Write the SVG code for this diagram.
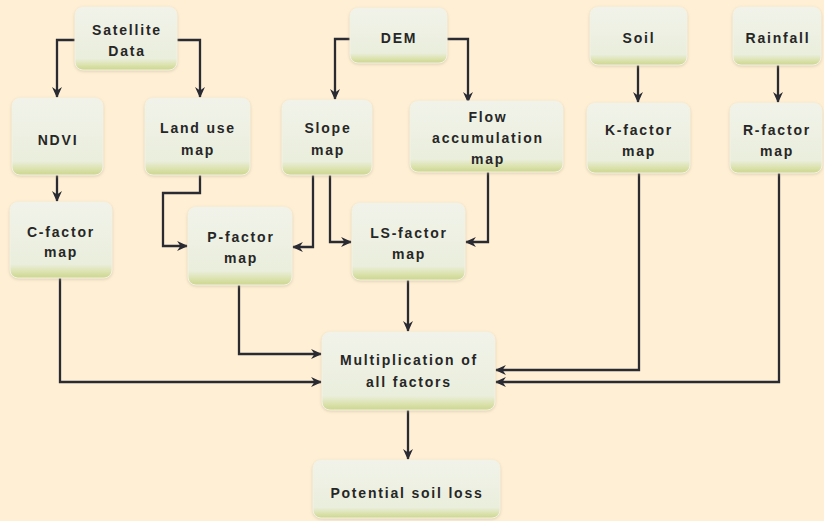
<svg xmlns="http://www.w3.org/2000/svg" width="824" height="521" viewBox="0 0 824 521">
<defs>
<linearGradient id="g" x1="0" y1="0" x2="0" y2="1">
<stop offset="0" stop-color="#F1F3EA"/>
<stop offset="0.82" stop-color="#EAEEDC"/>
<stop offset="0.92" stop-color="#DCE2AE"/>
<stop offset="1" stop-color="#CCD68E"/>
</linearGradient>
<marker id="a" viewBox="0 0 10 10" refX="9" refY="5" markerWidth="11" markerHeight="11" markerUnits="userSpaceOnUse" orient="auto">
<path d="M0,0.5 L10,5 L0,9.5 L3,5 Z" fill="#2a2a33"/>
</marker>
<filter id="s" x="-10%" y="-10%" width="120%" height="125%">
<feDropShadow dx="0" dy="1" stdDeviation="1.5" flood-color="#b9ad8c" flood-opacity="0.5"/>
</filter>
</defs>
<style>
.n rect{fill:url(#g);stroke:#F4F1E2;stroke-width:1;filter:url(#s)}
.n text{font-family:"Liberation Sans",Arial,sans-serif;font-weight:bold;font-size:14px;letter-spacing:1.8px;fill:#262626;text-anchor:middle}
.c path{fill:none;stroke:#2a2a33;stroke-width:2.3;marker-end:url(#a)}
</style>
<rect width="824" height="521" fill="#FFF0D5"/>
<g id="connectors" class="c">
<path d="M75,40 H57 V97"/>
<path d="M177,40 H200 V97"/>
<path d="M57,175 V201"/>
<path d="M200,175 V193 H163 V246 H187"/>
<path d="M350,39 H335 V99"/>
<path d="M447,39 H468 V102"/>
<path d="M313,175 V247 H293"/>
<path d="M330,175 V242 H351"/>
<path d="M488,172 V242 H466"/>
<path d="M408,280 V331"/>
<path d="M239,285 V354 H321"/>
<path d="M60,278 V382 H321"/>
<path d="M639,173 V370 H496"/>
<path d="M779,173 V382 H496"/>
<path d="M638,65 V102"/>
<path d="M778,65 V102"/>
<path d="M408,410 V459"/>
</g>
<g id="satellite" class="n"><rect x="75" y="7" width="102" height="63" rx="8"/><text x="127" y="35">Satellite</text><text x="127" y="56">Data</text></g>
<g id="ndvi" class="n"><rect x="12" y="98" width="91" height="77" rx="8"/><text x="58" y="145">NDVI</text></g>
<g id="landuse" class="n"><rect x="145" y="98" width="105" height="77" rx="8"/><text x="198" y="133">Land use</text><text x="198" y="155">map</text></g>
<g id="dem" class="n"><rect x="350" y="8" width="97" height="55" rx="8"/><text x="399" y="43">DEM</text></g>
<g id="slope" class="n"><rect x="282" y="100" width="90" height="75" rx="8"/><text x="328" y="133">Slope</text><text x="328" y="155">map</text></g>
<g id="flow" class="n"><rect x="410" y="101" width="153" height="71" rx="8"/><text x="488" y="122">Flow</text><text x="488" y="143">accumulation</text><text x="488" y="164">map</text></g>
<g id="soil" class="n"><rect x="590" y="7" width="97" height="58" rx="8"/><text x="639" y="43">Soil</text></g>
<g id="rainfall" class="n"><rect x="733" y="7" width="88" height="58" rx="8"/><text x="778" y="43">Rainfall</text></g>
<g id="kfactor" class="n"><rect x="587" y="103" width="103" height="70" rx="8"/><text x="639" y="135">K-factor</text><text x="639" y="156">map</text></g>
<g id="rfactor" class="n"><rect x="730" y="103" width="92" height="70" rx="8"/><text x="777" y="135">R-factor</text><text x="777" y="156">map</text></g>
<g id="cfactor" class="n"><rect x="10" y="202" width="102" height="76" rx="8"/><text x="61" y="237">C-factor</text><text x="61" y="257">map</text></g>
<g id="pfactor" class="n"><rect x="188" y="207" width="104" height="78" rx="8"/><text x="241" y="242">P-factor</text><text x="241" y="263">map</text></g>
<g id="lsfactor" class="n"><rect x="352" y="203" width="113" height="77" rx="8"/><text x="409" y="238">LS-factor</text><text x="409" y="259">map</text></g>
<g id="multiplication" class="n"><rect x="322" y="332" width="173" height="78" rx="8"/><text x="409" y="365">Multiplication of</text><text x="409" y="387">all factors</text></g>
<g id="potential" class="n"><rect x="313" y="460" width="187" height="58" rx="8"/><text x="407" y="498">Potential soil loss</text></g>
</svg>
